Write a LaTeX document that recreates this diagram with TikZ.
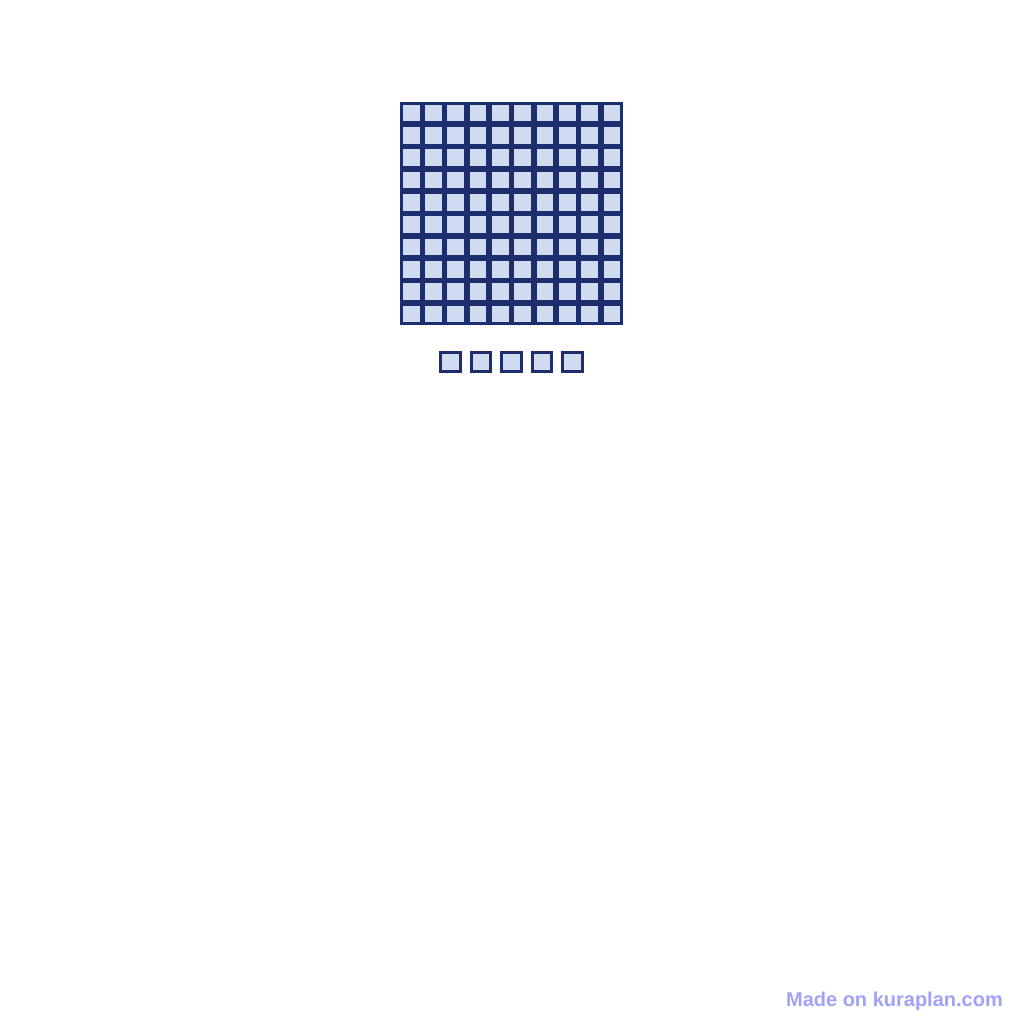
\documentclass[tikz,border=0pt]{standalone}
\usepackage{fontspec}
\setmainfont{Liberation Sans}
\usepackage{tikz}

\definecolor{navy}{RGB}{29,46,110}
\definecolor{cellblue}{RGB}{208,219,240}
\definecolor{markblue}{RGB}{160,162,250}

\tikzset{
  unitsquare/.style={draw=navy, fill=cellblue, line width=2.8pt,
    minimum size=19.5pt, inner sep=0pt, outer sep=0pt}
}

\begin{document}
\begin{tikzpicture}[x=1pt, y=-1pt]
    % fix page to the reference size
    \useasboundingbox[fill=white] (0, 0) rectangle (1024, 1024);

    % draw hundred square
    \foreach \i in {0,...,9}
      \foreach \j in {0,...,9}
        \node[unitsquare] (cell-\i-\j) at (411.15 + 22.3*\i, 113.15 + 22.3*\j) {};

    % draw five ones
    \foreach \k in {0,...,4}
      \node[unitsquare] (one-\k) at (450.5 + 30.5*\k, 362) {};

    % draw watermark
    \node[anchor=base east, inner sep=0pt, text=markblue, font=\bfseries\fontsize{20}{21}\selectfont]
      (mark) at (1003, 1006) {Made on kuraplan.com};
\end{tikzpicture}
\end{document}
